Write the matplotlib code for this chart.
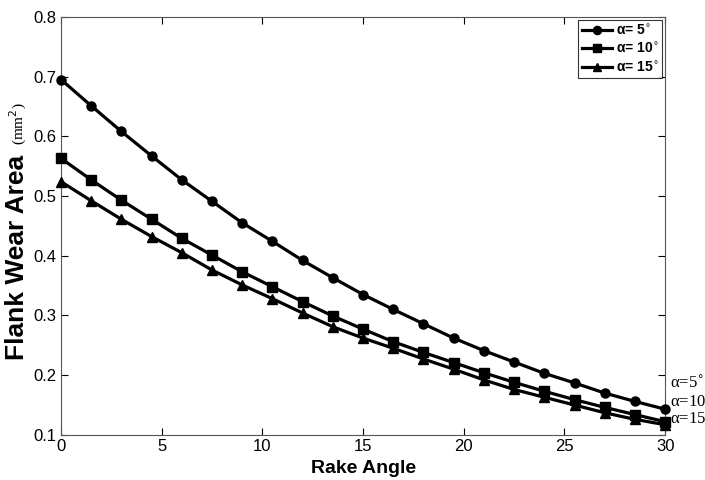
import matplotlib
matplotlib.use("Agg")
import matplotlib.pyplot as plt

rake_angle = [0, 1.5, 3, 4.5, 6, 7.5, 9, 10.5, 12, 13.5, 15, 16.5, 18, 19.5,
              21, 22.5, 24, 25.5, 27, 28.5, 30]

wear_a5 = [0.695, 0.651, 0.608, 0.567, 0.527, 0.491, 0.455, 0.424, 0.392, 0.363,
           0.335, 0.310, 0.286, 0.262, 0.241, 0.222, 0.203, 0.187, 0.170, 0.156, 0.143]
wear_a10 = [0.563, 0.527, 0.493, 0.461, 0.429, 0.401, 0.373, 0.348, 0.323, 0.299,
            0.277, 0.256, 0.238, 0.221, 0.204, 0.188, 0.173, 0.159, 0.146, 0.134, 0.122]
wear_a15 = [0.524, 0.492, 0.461, 0.432, 0.405, 0.376, 0.351, 0.328, 0.304, 0.281,
            0.262, 0.245, 0.227, 0.210, 0.192, 0.176, 0.163, 0.150, 0.137, 0.126, 0.117]

clearance_angles = ["5", "10", "15"]
x_ticks = [0, 5, 10, 15, 20, 25, 30]
y_ticks = [0.1, 0.2, 0.3, 0.4, 0.5, 0.6, 0.7, 0.8]

plt.rcParams["font.family"] = ["Liberation Sans", "DejaVu Sans"]

fig = plt.figure(figsize=(7.05, 4.8), dpi=100)
ax = fig.add_axes([0.0865, 0.094, 0.857, 0.871])

markers = ["o", "s", "^"]
handles = []
for ys, m in zip([wear_a5, wear_a10, wear_a15], markers):
    h, = ax.plot(rake_angle, ys, color="black", lw=2.3, marker=m, ms=6.5,
                 mfc="black", mec="black", clip_on=False, zorder=3)
    handles.append(h)

ax.set_xlim(0, 30)
ax.set_ylim(0.1, 0.8)
ax.set_xticks(x_ticks)
ax.set_yticks(y_ticks)
ax.set_yticklabels([f"{v:.1f}" for v in y_ticks])
ax.tick_params(direction="in", top=True, right=True, length=5, width=0.8,
               labelsize=12, pad=3)
for s in ax.spines.values():
    s.set_linewidth(0.8)
    s.set_color("#555555")

ax.set_xlabel("Rake Angle", fontsize=14, fontweight="bold", labelpad=4)

# y-axis title: bold sans words with the unit set in a small serif face
fig.text(0.024, 1 - 257 / 480, "Flank Wear Area", rotation=90, fontsize=19,
         fontweight="bold", ha="center", va="center")
fig.text(0.026, 1 - 124 / 480, "(mm$^2$)", rotation=90, fontsize=11,
         family="Liberation Serif", ha="center", va="center")

leg_labels = ["α= %s$^{\\circ}$" % v for v in clearance_angles]
leg = ax.legend(handles, leg_labels, loc="upper right", fontsize=10,
                frameon=True, fancybox=False, edgecolor="black",
                borderpad=0.25, labelspacing=0.3, handlelength=2.2,
                handletextpad=0.3, borderaxespad=0.2, markerscale=0.9)
leg.get_frame().set_linewidth(0.8)
for t in leg.get_texts():
    t.set_fontweight("bold")

side_pos = [383, 402, 419]
for ypx, v in zip(side_pos, clearance_angles):
    fig.text(670 / 705, 1 - ypx / 480, "α=%s$^{\\circ}$" % v,
             family="Liberation Serif", fontsize=12, ha="left", va="center")

fig.savefig("out.png", dpi=100)
